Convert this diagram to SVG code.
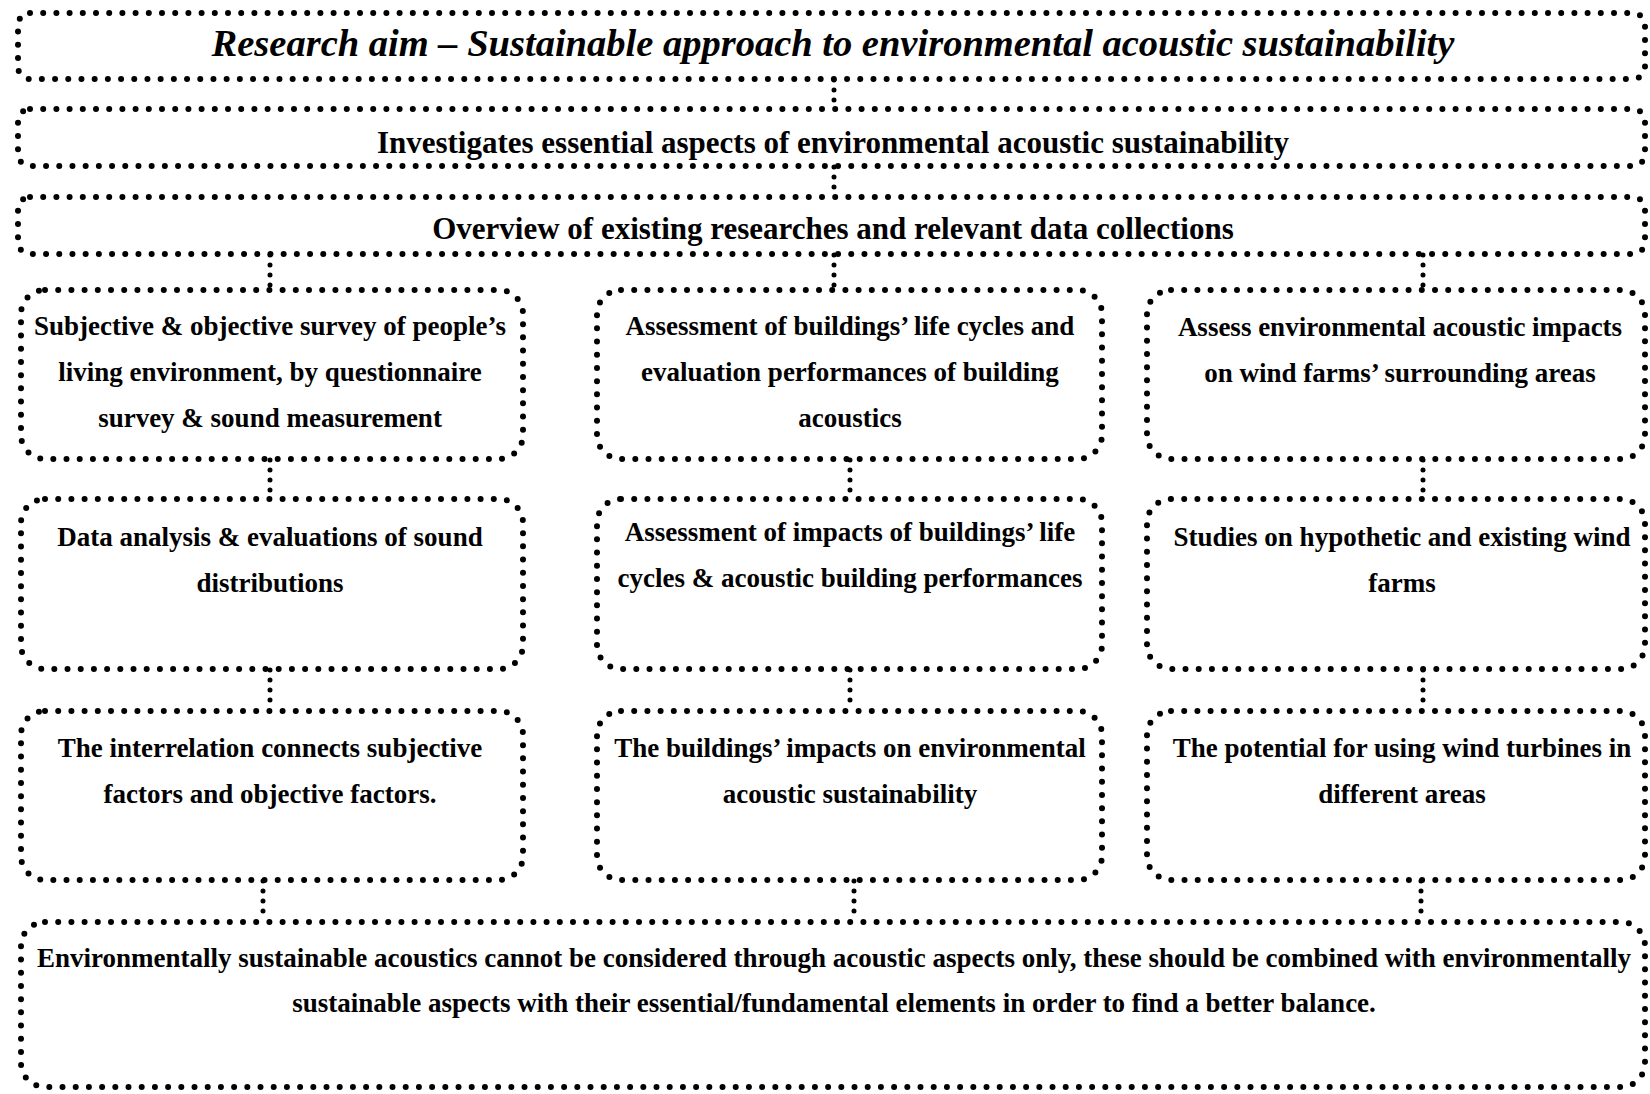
<svg xmlns="http://www.w3.org/2000/svg" width="1650" height="1094" viewBox="0 0 1650 1094">
<style>
.box{fill:none;stroke:#000;stroke-width:6;stroke-dasharray:0 13.2;stroke-linecap:round}
.con{fill:none;stroke:#000;stroke-width:5;stroke-dasharray:0 10;stroke-linecap:round}
.t{font-family:"Liberation Serif","Times New Roman",serif;font-weight:bold;fill:#000;text-anchor:middle}
.title{font-size:38.5px;font-style:italic}
.h{font-size:31px}
.c{font-size:27px}
</style>
<rect width="1650" height="1094" fill="#fff"/>
<g id="connectors">
<line class="con" x1="834" y1="80" x2="834" y2="108"/>
<line class="con" x1="834" y1="167" x2="834" y2="196"/>
<line class="con" x1="270" y1="255" x2="270" y2="289"/>
<line class="con" x1="834" y1="255" x2="834" y2="289"/>
<line class="con" x1="1423" y1="255" x2="1423" y2="289"/>
<line class="con" x1="270" y1="460" x2="270" y2="498"/>
<line class="con" x1="850" y1="460" x2="850" y2="498"/>
<line class="con" x1="1423" y1="460" x2="1423" y2="498"/>
<line class="con" x1="270" y1="670" x2="270" y2="710"/>
<line class="con" x1="850" y1="670" x2="850" y2="710"/>
<line class="con" x1="1423" y1="670" x2="1423" y2="710"/>
<line class="con" x1="263" y1="881" x2="263" y2="921"/>
<line class="con" x1="854" y1="881" x2="854" y2="921"/>
<line class="con" x1="1421" y1="881" x2="1421" y2="921"/>
</g>
<g id="aim">
<rect class="box" x="18" y="13" width="1627" height="66" rx="12"/>
<text class="t title" x="833" y="56">Research aim – Sustainable approach to environmental acoustic sustainability</text>
</g>
<g id="investigates">
<rect class="box" x="18" y="109" width="1627" height="57" rx="12"/>
<text class="t h" x="833" y="153">Investigates essential aspects of environmental acoustic sustainability</text>
</g>
<g id="overview">
<rect class="box" x="18" y="197" width="1627" height="57" rx="12"/>
<text class="t h" x="833" y="239">Overview of existing researches and relevant data collections</text>
</g>
<g id="survey">
<rect class="box" x="21" y="290" width="502" height="169" rx="24"/>
<text class="t c" x="270"><tspan x="270" y="335">Subjective &amp; objective survey of people’s</tspan><tspan x="270" y="381">living environment, by questionnaire</tspan><tspan x="270" y="427">survey &amp; sound measurement</tspan></text>
</g>
<g id="lifecycle">
<rect class="box" x="597" y="290" width="505" height="169" rx="24"/>
<text class="t c" x="850"><tspan x="850" y="335">Assessment of buildings’ life cycles and</tspan><tspan x="850" y="381">evaluation performances of building</tspan><tspan x="850" y="427">acoustics</tspan></text>
</g>
<g id="windimpact">
<rect class="box" x="1147" y="290" width="498" height="169" rx="24"/>
<text class="t c" x="1400"><tspan x="1400" y="336">Assess environmental acoustic impacts</tspan><tspan x="1400" y="382">on wind farms’ surrounding areas</tspan></text>
</g>
<g id="analysis">
<rect class="box" x="21" y="499" width="502" height="170" rx="24"/>
<text class="t c" x="270"><tspan x="270" y="546">Data analysis &amp; evaluations of sound</tspan><tspan x="270" y="592">distributions</tspan></text>
</g>
<g id="impacts">
<rect class="box" x="597" y="499" width="505" height="170" rx="24"/>
<text class="t c" x="850"><tspan x="850" y="541">Assessment of impacts of buildings’ life</tspan><tspan x="850" y="587">cycles &amp; acoustic building performances</tspan></text>
</g>
<g id="windstudies">
<rect class="box" x="1147" y="499" width="498" height="170" rx="24"/>
<text class="t c" x="1402"><tspan x="1402" y="546">Studies on hypothetic and existing wind</tspan><tspan x="1402" y="592">farms</tspan></text>
</g>
<g id="interrelation">
<rect class="box" x="21" y="711" width="502" height="169" rx="24"/>
<text class="t c" x="270"><tspan x="270" y="757">The interrelation connects subjective</tspan><tspan x="270" y="803">factors and objective factors.</tspan></text>
</g>
<g id="buildingimpacts">
<rect class="box" x="597" y="711" width="505" height="169" rx="24"/>
<text class="t c" x="850"><tspan x="850" y="757">The buildings’ impacts on environmental</tspan><tspan x="850" y="803">acoustic sustainability</tspan></text>
</g>
<g id="turbines">
<rect class="box" x="1147" y="711" width="498" height="169" rx="24"/>
<text class="t c" x="1402"><tspan x="1402" y="757">The potential for using wind turbines in</tspan><tspan x="1402" y="803">different areas</tspan></text>
</g>
<g id="conclusion">
<rect class="box" x="21" y="922" width="1624" height="165" rx="24"/>
<text class="t c" x="834"><tspan x="834" y="967">Environmentally sustainable acoustics cannot be considered through acoustic aspects only, these should be combined with environmentally</tspan><tspan x="834" y="1012">sustainable aspects with their essential/fundamental elements in order to find a better balance.</tspan></text>
</g>
</svg>
